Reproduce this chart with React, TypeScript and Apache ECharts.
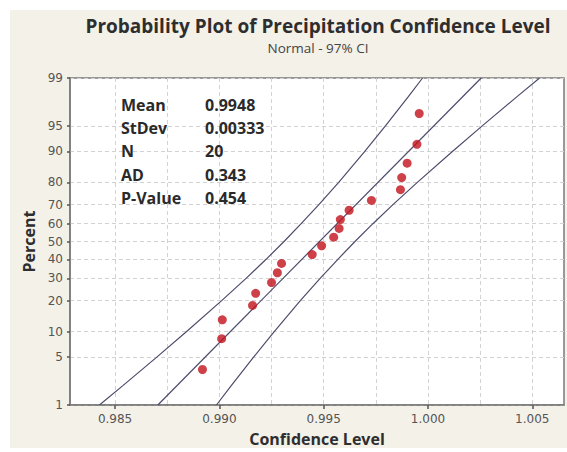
import React, { useEffect, useRef } from "react";
import * as echarts from "echarts";

const titleText = "Probability Plot of Precipitation Confidence Level";
const subtitleText = "Normal - 97% CI";
const xAxisName = "Confidence Level";
const yAxisName = "Percent";

const xMin = 0.98284;
const xMax = 1.00652;
const xTickValues = [0.985, 0.99, 0.995, 1.0, 1.005];
const xTickLabels = ["0.985", "0.990", "0.995", "1.000", "1.005"];
const xGridValues = [0.985, 0.9875, 0.99, 0.9925, 0.995, 0.9975, 1.0, 1.0025, 1.005];
const yTickPercents = [1, 5, 10, 20, 30, 40, 50, 60, 70, 80, 90, 95, 99];

const sampleValues = [
  0.98919, 0.99011, 0.99014, 0.99159, 0.99174, 0.9925, 0.99278, 0.99298, 0.99445, 0.9949,
  0.99548, 0.99574, 0.9958, 0.99622, 0.99729, 0.99868, 0.99874, 0.999, 0.99947, 0.99958,
];
const samplePercents = [
  3.43, 8.33, 13.24, 18.14, 23.04, 27.94, 32.84, 37.75, 42.65, 47.55,
  52.45, 57.35, 62.25, 67.16, 72.06, 76.96, 81.86, 86.76, 91.67, 96.57,
];

const fitPercents = [1, 99];
const fitValues = [0.98705, 1.00255];

const bandPercents = [1, 2, 5, 10, 20, 30, 40, 50, 60, 70, 80, 90, 95, 98, 99];
const lowerBand = [
  0.98425, 0.98536, 0.987, 0.98843, 0.99011, 0.99128, 0.99224, 0.9931, 0.99392, 0.99477,
  0.99572, 0.99697, 0.99796, 0.99904, 0.99974,
];
const upperBand = [
  0.98986, 0.99056, 0.99164, 0.99263, 0.99388, 0.99483, 0.99568, 0.9965, 0.99736, 0.99832,
  0.99949, 1.00117, 1.0026, 1.00424, 1.00535,
];

const statLabels = ["Mean", "StDev", "N", "AD", "P-Value"];
const statValues = ["0.9948", "0.00333", "20", "0.343", "0.454"];

// inverse standard normal CDF (probability-paper scale)
function probit(p: number): number {
  const a = [-39.69683028665376, 220.9460984245205, -275.9285104469687, 138.357751867269, -30.66479806614716, 2.506628277459239];
  const b = [-54.47609879822406, 161.5858368580409, -155.6989798598866, 66.80131188771972, -13.28068155288572];
  const c = [-0.007784894002430293, -0.3223964580411365, -2.400758277161838, -2.549732539343734, 4.374664141464968, 2.938163982698783];
  const d = [0.007784695709041462, 0.3224671290700398, 2.445134137142996, 3.754408661907416];
  const pl = 0.02425;
  if (p < pl) {
    const q = Math.sqrt(-2 * Math.log(p));
    return (((((c[0] * q + c[1]) * q + c[2]) * q + c[3]) * q + c[4]) * q + c[5]) /
      ((((d[0] * q + d[1]) * q + d[2]) * q + d[3]) * q + 1);
  }
  if (p <= 1 - pl) {
    const q = p - 0.5;
    const r = q * q;
    return ((((((a[0] * r + a[1]) * r + a[2]) * r + a[3]) * r + a[4]) * r + a[5]) * q) /
      (((((b[0] * r + b[1]) * r + b[2]) * r + b[3]) * r + b[4]) * r + 1);
  }
  const q = Math.sqrt(-2 * Math.log(1 - p));
  return -(((((c[0] * q + c[1]) * q + c[2]) * q + c[3]) * q + c[4]) * q + c[5]) /
    ((((d[0] * q + d[1]) * q + d[2]) * q + d[3]) * q + 1);
}

const yMin = probit(0.01);
const yMax = -probit(0.01);

export default function App() {
  const ref = useRef<HTMLDivElement>(null);

  useEffect(() => {
    if (!ref.current) return;
    const chart = echarts.init(ref.current, undefined, { renderer: "svg" });
    const lineColor = "#4c4c6c";
    const gridColor = "#d2d2d2";
    const frameColor = "#7a7a7a";
    const labelFont = "DejaVu Sans";

    const yTickValues = yTickPercents.map((p) => (p === 99 ? yMax : p === 1 ? yMin : probit(p / 100)));

    const statGraphics: any[] = [];
    statLabels.forEach((lab, i) => {
      const y = 105 + i * 23.2;
      statGraphics.push({
        type: "text",
        x: 121,
        y,
        z: 100,
        style: {
          text: lab,
          font: "bold 16px 'Open Sans'",
          fill: "#2a2a2a",
          textAlign: "left",
          textVerticalAlign: "middle",
        },
      });
      statGraphics.push({
        type: "text",
        x: 205,
        y,
        z: 100,
        style: {
          text: statValues[i],
          font: "bold 16px 'Open Sans'",
          fill: "#2a2a2a",
          textAlign: "left",
          textVerticalAlign: "middle",
        },
      });
    });

    chart.setOption({
      animation: false,
      backgroundColor: "#ffffff",
      graphic: [
        {
          type: "rect",
          z: -100,
          shape: { x: 10, y: 10, width: 557, height: 438 },
          style: { fill: "#f4f1e8" },
          silent: true,
        },
        {
          type: "text",
          x: 318,
          y: 26,
          style: {
            text: titleText,
            font: "bold 19px 'Open Sans'",
            fill: "#2e2e2e",
            textAlign: "center",
            textVerticalAlign: "middle",
          },
        },
        {
          type: "text",
          x: 318,
          y: 48,
          style: {
            text: subtitleText,
            font: "13.5px 'Open Sans'",
            fill: "#444444",
            textAlign: "center",
            textVerticalAlign: "middle",
          },
        },
        ...statGraphics,
      ],
      grid: {
        left: 70,
        top: 78,
        right: 3,
        bottom: 45,
        show: true,
        backgroundColor: "#ffffff",
        borderColor: frameColor,
        borderWidth: 1.5,
      },
      xAxis: [
        {
          type: "value",
          position: "bottom",
          min: xMin,
          max: xMax,
          axisLine: { show: true, onZero: false, lineStyle: { color: frameColor, width: 1.5 } },
          axisTick: { show: false, customValues: xGridValues },
          axisLabel: { show: false },
          splitLine: { show: true, lineStyle: { color: gridColor, type: [4, 3], width: 1 } },
          name: xAxisName,
          nameLocation: "middle",
          nameGap: 26,
          nameTextStyle: { fontFamily: "Open Sans", fontWeight: "bold", fontSize: 16, color: "#2e2e2e", verticalAlign: "top" },
        },
        {
          type: "value",
          position: "bottom",
          min: xMin,
          max: xMax,
          axisLine: { show: false, onZero: false },
          axisTick: { show: true, length: 4, customValues: xTickValues, lineStyle: { color: "#555555", width: 1.5 } },
          axisLabel: {
            show: true,
            customValues: xTickValues,
            margin: 8,
            fontFamily: labelFont,
            fontSize: 12,
            color: "#555555",
            formatter: (v: number) => {
              const i = xTickValues.findIndex((t) => Math.abs(t - v) < 1e-7);
              return i >= 0 ? xTickLabels[i] : "";
            },
          },
          splitLine: { show: false },
        },
      ],
      yAxis: {
        type: "value",
        min: yMin,
        max: yMax,
        axisLine: { show: true, onZero: false, lineStyle: { color: frameColor, width: 1.5 } },
        axisTick: { show: true, length: 3, customValues: yTickValues, lineStyle: { color: "#555555", width: 1.5 } },
        axisLabel: {
          show: true,
          customValues: yTickValues,
          margin: 7,
          fontFamily: labelFont,
          fontSize: 12,
          color: "#555555",
          formatter: (v: number) => {
            const i = yTickValues.findIndex((t) => Math.abs(t - v) < 1e-6);
            return i >= 0 ? String(yTickPercents[i]) : "";
          },
        },
        splitLine: { show: true, lineStyle: { color: gridColor, type: [4, 3], width: 1 } },
        name: yAxisName,
        nameLocation: "middle",
        nameGap: 32,
        nameTextStyle: { fontFamily: "Open Sans", fontWeight: "bold", fontSize: 16, color: "#2e2e2e" },
      },
      series: [
        {
          type: "line",
          xAxisIndex: 0,
          data: lowerBand.map((v, i) => [v, probit(bandPercents[i] / 100)]),
          showSymbol: false,
          lineStyle: { color: lineColor, width: 1.2 },
          silent: true,
        },
        {
          type: "line",
          xAxisIndex: 0,
          data: upperBand.map((v, i) => [v, probit(bandPercents[i] / 100)]),
          showSymbol: false,
          lineStyle: { color: lineColor, width: 1.2 },
          silent: true,
        },
        {
          type: "line",
          xAxisIndex: 0,
          data: fitValues.map((v, i) => [v, probit(fitPercents[i] / 100)]),
          showSymbol: false,
          lineStyle: { color: lineColor, width: 1.2 },
          silent: true,
        },
        {
          type: "scatter",
          xAxisIndex: 0,
          data: sampleValues.map((v, i) => [v, probit(samplePercents[i] / 100)]),
          symbolSize: 9,
          itemStyle: { color: "#c2111b" },
          z: 5,
        },
      ],
    });
    return () => chart.dispose();
  }, []);

  return (
    <div
      ref={ref}
      style={{ position: "absolute", left: 0, top: 0, width: 567, height: 452 }}
    />
  );
}
